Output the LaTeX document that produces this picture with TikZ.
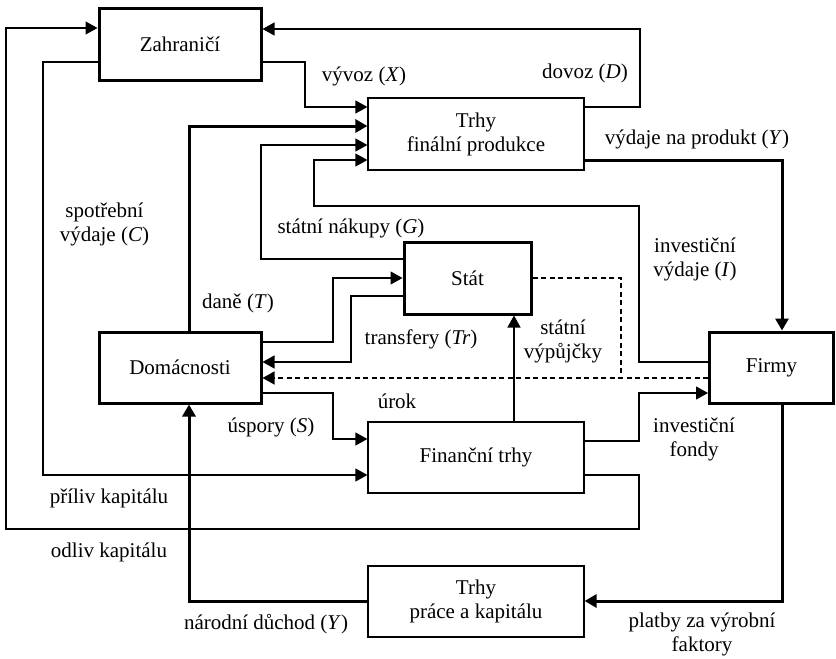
\documentclass[tikz,border=0pt]{standalone}
\usepackage{fontspec}
\setmainfont{Liberation Serif}
\usetikzlibrary{arrows.meta}
\begin{document}
\begin{tikzpicture}[x=1pt,y=-1pt,
  every node/.style={font=\fontsize{21}{24}\selectfont, inner sep=0pt},
  box/.style={draw, align=center, inner sep=0pt},
  thinbox/.style={box, line width=1.2pt},
  thickbox/.style={box, line width=3pt},
  arrowtip/.style={-{Triangle[length=12pt,width=13pt]}},
  flow/.style={arrowtip, line width=1.2pt},
  mainflow/.style={arrowtip, line width=3pt},
  dashline/.style={line width=1.2pt, dash pattern=on 5pt off 3.5pt},
  lbl/.style={align=center}]
\useasboundingbox (0,0) rectangle (836,659);

% boxes
\node[thickbox, minimum width=162pt, minimum height=72pt] (zah) at (180,44) {Zahraničí};
\node[thinbox, minimum width=216pt, minimum height=72pt] (trf) at (476,134) {Trhy\\finální produkce};
\node[thickbox, minimum width=127pt, minimum height=72pt] (stat) at (467.5,278) {Stát};
\node[thickbox, minimum width=162pt, minimum height=71pt] (dom) at (180,367.5) {Domácnosti};
\node[thickbox, minimum width=124pt, minimum height=71pt] (firm) at (771.5,367.5) {Firmy};
\node[thinbox, minimum width=216pt, minimum height=71pt] (fin) at (476,457.5) {Finanční trhy};
\node[thinbox, minimum width=216pt, minimum height=71pt] (tpk) at (476,601.5) {Trhy\\práce a kapitálu};

% connectors
\draw[flow] (zah.east |- 0,62) -- (305,62) -- (305,107) -- (trf.west |- 0,107);
\draw[flow] (trf.east |- 0,107) -- (640,107) -- (640,29) -- (zah.east |- 0,29);
\draw[mainflow] (dom.north -| 189,0) -- (189,126) -- (trf.west |- 0,126);
\draw[flow] (stat.west |- 0,259) -- (261,259) -- (261,145) -- (trf.west |- 0,145);
\draw[flow] (firm.west |- 0,362) -- (639,362) -- (639,206) -- (314,206) -- (314,160) -- (trf.west |- 0,160);
\draw[mainflow] (trf.east |- 0,160) -- (782,160) -- (firm.north -| 782,0);
\draw[flow] (dom.east |- 0,342) -- (333,342) -- (333,278) -- (stat.west |- 0,278);
\draw[flow] (stat.west |- 0,296) -- (351,296) -- (351,362) -- (dom.east |- 0,362);
\draw[dashline, arrowtip] (firm.west |- 0,378) -- (dom.east |- 0,378);
\draw[dashline] (stat.east |- 0,278) -- (621,278) -- (621,378);
\draw[flow] (fin.north -| 514,0) -- (stat.south -| 514,0);
\draw[flow] (dom.east |- 0,393) -- (333,393) -- (333,439) -- (fin.west |- 0,439);
\draw[flow] (fin.east |- 0,441) -- (639,441) -- (639,393) -- (firm.west |- 0,393);
\draw[flow] (zah.west |- 0,62) -- (43,62) -- (43,475) -- (fin.west |- 0,475);
\draw[flow] (fin.east |- 0,475) -- (639,475) -- (639,529) -- (6,529) -- (6,28) -- (zah.west |- 0,28);
\draw[mainflow] (firm.south -| 782,0) -- (782,601) -- (tpk.east |- 0,601);
\draw[mainflow] (tpk.west |- 0,601) -- (189,601) -- (dom.south -| 189,0);

% labels
\node[lbl] (lX) at (364,76) {vývoz (\textit{X})};
\node[lbl] (lD) at (585,73) {dovoz (\textit{D})};
\node[lbl] (lY) at (697,139) {výdaje na produkt (\textit{Y})};
\node[lbl] (lC) at (104.5,224) {spotřební\\výdaje (\textit{C})};
\node[lbl] (lG) at (351,228) {státní nákupy (\textit{G})};
\node[lbl] (lI) at (695,259) {investiční\\výdaje (\textit{I})};
\node[lbl] (lT) at (238,303) {daně (\textit{T})};
\node[lbl] (lTr) at (421,339) {transfery (\textit{Tr})};
\node[lbl] (lB) at (563,341) {státní\\výpůjčky};
\node[lbl] (lU) at (397,401) {úrok};
\node[lbl] (lS) at (271,427) {úspory (\textit{S})};
\node[lbl] (lF) at (694,439) {investiční\\fondy};
\node[lbl] (lIn) at (109,498) {příliv kapitálu};
\node[lbl] (lOut) at (109,552) {odliv kapitálu};
\node[lbl] (lNY) at (266,624) {národní důchod (\textit{Y})};
\node[lbl] (lP) at (702,634) {platby za výrobní\\faktory};
\end{tikzpicture}
\end{document}
